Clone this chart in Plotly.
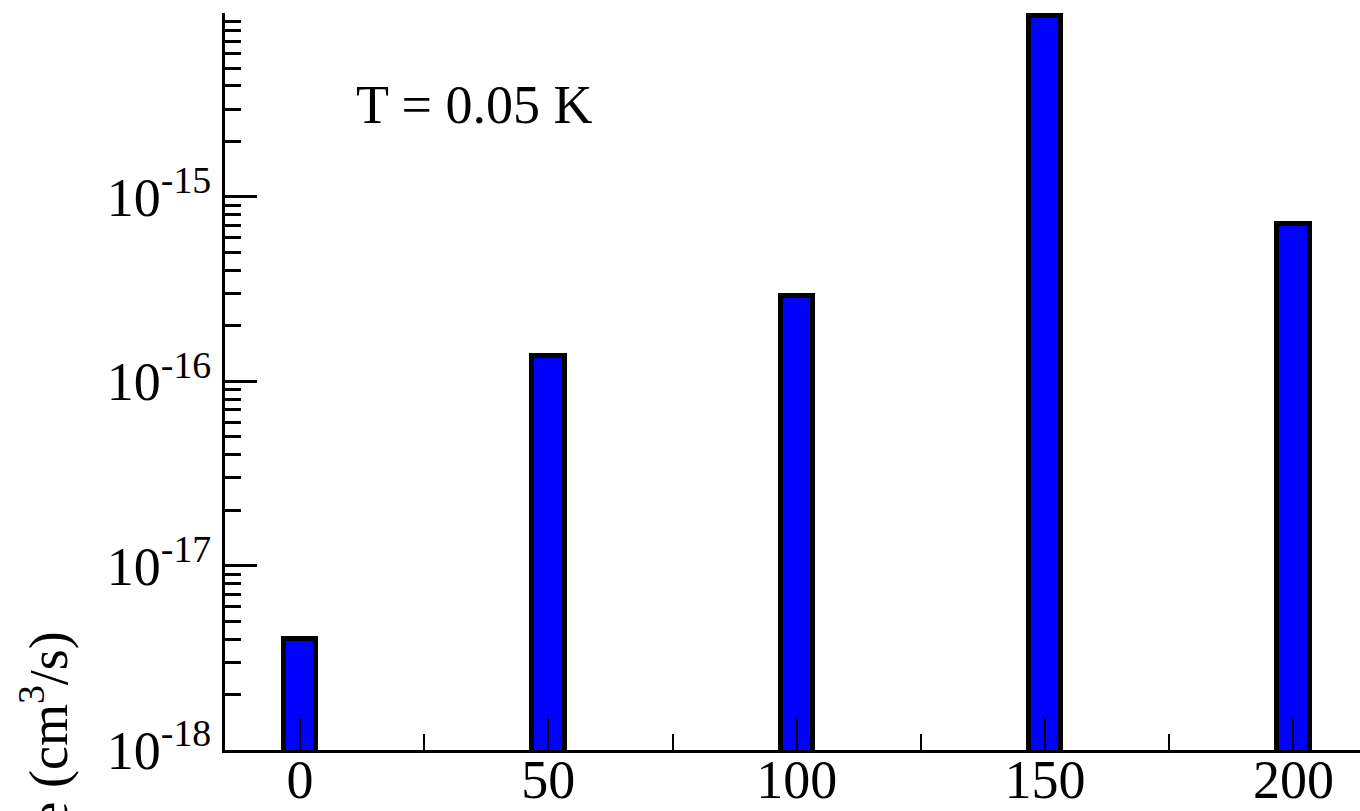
import plotly.graph_objects as go

# Data
x_values = [0, 50, 100, 150, 200]
rates = [4.0e-18, 1.37e-16, 2.89e-16, 9.6e-15, 7.13e-16]

y_tick_vals = [1e-18, 1e-17, 1e-16, 1e-15]
y_tick_text = ["10<sup>-18</sup>", "10<sup>-17</sup>", "10<sup>-16</sup>", "10<sup>-15</sup>"]
x_tick_vals = [0, 50, 100, 150, 200]
x_tick_text = ["0", "50", "100", "150", "200"]

minor_y = [k * 10.0 ** e for e in range(-18, -14) for k in range(2, 10)]

FONT = "Liberation Serif"

fig = go.Figure()
fig.add_trace(go.Bar(
    x=x_values, y=rates, width=6.5,
    marker=dict(color="#0000ff", line=dict(color="black", width=5)),
    showlegend=False,
))

fig.update_layout(
    width=1360, height=811,
    margin=dict(l=225, r=0, t=13, b=61, autoexpand=False),
    paper_bgcolor="white", plot_bgcolor="white",
    font=dict(family=FONT, size=52, color="black"),
    bargap=0,
)

fig.update_xaxes(
    range=[-15.1, 213.4], automargin=False,
    tickmode="array", tickvals=x_tick_vals, ticktext=x_tick_text,
    ticks="inside", ticklen=32, tickwidth=2, tickcolor="black",
    ticklabelstandoff=-20,
    minor=dict(tickmode="linear", tick0=0, dtick=25, ticks="inside", ticklen=16, tickwidth=2, tickcolor="black"),
    showline=True, linewidth=3, linecolor="black", mirror=False,
    showgrid=False, zeroline=False,
    tickfont=dict(family=FONT, size=54),
)

fig.update_yaxes(
    type="log", range=[-18, -14.002], automargin=False,
    tickmode="array", tickvals=y_tick_vals, ticktext=y_tick_text,
    ticks="inside", ticklen=32, tickwidth=3, tickcolor="black",
    minor=dict(tickmode="array", tickvals=minor_y, ticks="inside", ticklen=16, tickwidth=3, tickcolor="black"),
    showline=True, linewidth=3, linecolor="black", mirror=False,
    showgrid=False, zeroline=False,
    tickfont=dict(family=FONT, size=54),
)

fig.add_annotation(
    text="T = 0.05 K", xref="paper", yref="paper",
    x=(474 - 225) / 1135, y=(750 - 105) / 737,
    xanchor="center", yanchor="middle", showarrow=False,
    font=dict(family=FONT, size=54, color="black"),
)

fig.add_annotation(
    text="Rate (cm<sup>3</sup>/s)", xref="paper", yref="paper",
    x=(45 - 225) / 1135, y=(750 - 630) / 737,
    xanchor="center", yanchor="top", textangle=-90, showarrow=False,
    font=dict(family=FONT, size=54, color="black"),
)

fig.write_html("out.html")
